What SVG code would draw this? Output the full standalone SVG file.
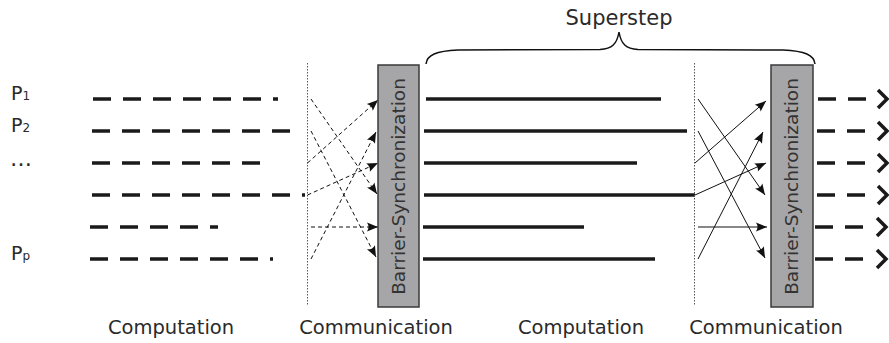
<svg xmlns="http://www.w3.org/2000/svg" width="889" height="343" viewBox="0 0 889 343">
<style>
  text { font-family: "DejaVu Sans", Verdana, sans-serif; fill: #2a2a2a; }
  .lbl { font-size: 19.5px; text-anchor: middle; }
  .proc { font-size: 19px; }
  .sub { font-size: 12px; }
  .bar { fill: #a6a6a8; stroke: #3a3a3a; stroke-width: 1.5; }
  .bartxt { font-size: 18.5px; text-anchor: middle; fill: #333; }
  .dash { stroke: #1a1a1a; stroke-width: 3.5; stroke-dasharray: 18 12; fill: none; }
  .solid { stroke: #1a1a1a; stroke-width: 3.5; fill: none; }
  .sep { stroke: #555; stroke-width: 1; stroke-dasharray: 1.5 1.5; }
  .comm1 { stroke: #111; stroke-width: 1; stroke-dasharray: 4 3; fill: none; marker-end: url(#ah); }
  .comm2 { stroke: #111; stroke-width: 1; fill: none; marker-end: url(#ah); }
  .chev { stroke: #1a1a1a; stroke-width: 3.5; fill: none; }
</style>
<defs>
  <marker id="ah" markerUnits="userSpaceOnUse" markerWidth="14" markerHeight="12" viewBox="-12 -6 14 12" refX="0" refY="0" orient="auto">
    <path d="M0,0 L-11,-4.5 Q-8,0 -11,4.5 Z" fill="#111" stroke="none"/>
  </marker>
  <path id="chev" d="M-9,-9 L0,0 L-9,9"/>
</defs>

<g id="process-labels">
  <text class="proc" x="11" y="100">P<tspan class="sub" dy="0">1</tspan></text>
  <text class="proc" x="11" y="132">P<tspan class="sub" dy="0">2</tspan></text>
  <text class="proc" x="10" y="166" style="font-size:22px">…</text>
  <text class="proc" x="11" y="260">P<tspan class="sub" dy="0">p</tspan></text>
</g>

<g id="timelines">
  <line class="dash" x1="93" y1="99" x2="278" y2="99"/>
  <line class="dash" x1="92" y1="131" x2="291" y2="131"/>
  <line class="dash" x1="92" y1="163" x2="260" y2="163"/>
  <line class="dash" x1="92" y1="195" x2="305" y2="195"/>
  <line class="dash" x1="90" y1="227" x2="218" y2="227"/>
  <line class="dash" x1="90" y1="259" x2="273" y2="259"/>

  <line class="solid" x1="426" y1="99" x2="661" y2="99"/>
  <line class="solid" x1="424" y1="131" x2="687" y2="131"/>
  <line class="solid" x1="424" y1="163" x2="637" y2="163"/>
  <line class="solid" x1="424" y1="195" x2="695" y2="195"/>
  <line class="solid" x1="423" y1="227" x2="584" y2="227"/>
  <line class="solid" x1="423" y1="259" x2="655" y2="259"/>

  <line class="dash" x1="818" y1="99" x2="866" y2="99"/>
  <line class="dash" x1="817" y1="131" x2="865" y2="131"/>
  <line class="dash" x1="817" y1="163" x2="865" y2="163"/>
  <line class="dash" x1="817" y1="195" x2="865" y2="195"/>
  <line class="dash" x1="815" y1="227" x2="863" y2="227"/>
  <line class="dash" x1="815" y1="259" x2="863" y2="259"/>
  <use href="#chev" class="chev" x="887" y="99"/>
  <use href="#chev" class="chev" x="887" y="131"/>
  <use href="#chev" class="chev" x="887" y="163"/>
  <use href="#chev" class="chev" x="887" y="195"/>
  <use href="#chev" class="chev" x="886" y="227"/>
  <use href="#chev" class="chev" x="886" y="259"/>
</g>

<g id="separators">
  <line class="sep" x1="307.5" y1="63" x2="307.5" y2="305"/>
  <line class="sep" x1="694.5" y1="63" x2="694.5" y2="305"/>
</g>

<g id="connectors">
  <line class="comm1" x1="311" y1="99" x2="377" y2="194"/>
  <line class="comm1" x1="311" y1="131" x2="376" y2="257"/>
  <line class="comm1" x1="307.5" y1="163" x2="378" y2="100"/>
  <line class="comm1" x1="307.5" y1="195" x2="378" y2="163"/>
  <line class="comm1" x1="311" y1="227" x2="378" y2="227"/>
  <line class="comm1" x1="311" y1="259" x2="376" y2="132"/>

  <line class="comm2" x1="698" y1="99" x2="765" y2="195"/>
  <line class="comm2" x1="698" y1="131" x2="765" y2="258"/>
  <line class="comm2" x1="695" y1="163" x2="766" y2="101"/>
  <line class="comm2" x1="695" y1="195" x2="766" y2="163"/>
  <line class="comm2" x1="698" y1="227" x2="767" y2="227"/>
  <line class="comm2" x1="698" y1="259" x2="763" y2="132"/>
</g>

<g id="barrier1">
  <rect class="bar" x="378" y="65" width="41" height="242"/>
  <text class="bartxt" transform="translate(405,186.5) rotate(-90)">Barrier-Synchronization</text>
</g>

<g id="barrier2">
  <rect class="bar" x="771" y="65" width="42" height="242"/>
  <text class="bartxt" transform="translate(798,186.5) rotate(-90)">Barrier-Synchronization</text>
</g>

<g id="superstep">
  <path d="M426,64 C427,55 436,51 458,50 L600,49.5 C612,49 617,44 619,32 C621,44 626,49 638,49.5 L783,50 C805,51 814,55 815,64" fill="none" stroke="#111" stroke-width="1.5"/>
  <text class="lbl" x="619" y="25" style="font-size:21px">Superstep</text>
</g>

<g id="phase-labels">
  <text class="lbl" x="171" y="334">Computation</text>
  <text class="lbl" x="376" y="334">Communication</text>
  <text class="lbl" x="581" y="334">Computation</text>
  <text class="lbl" x="766" y="334">Communication</text>
</g>
</svg>
